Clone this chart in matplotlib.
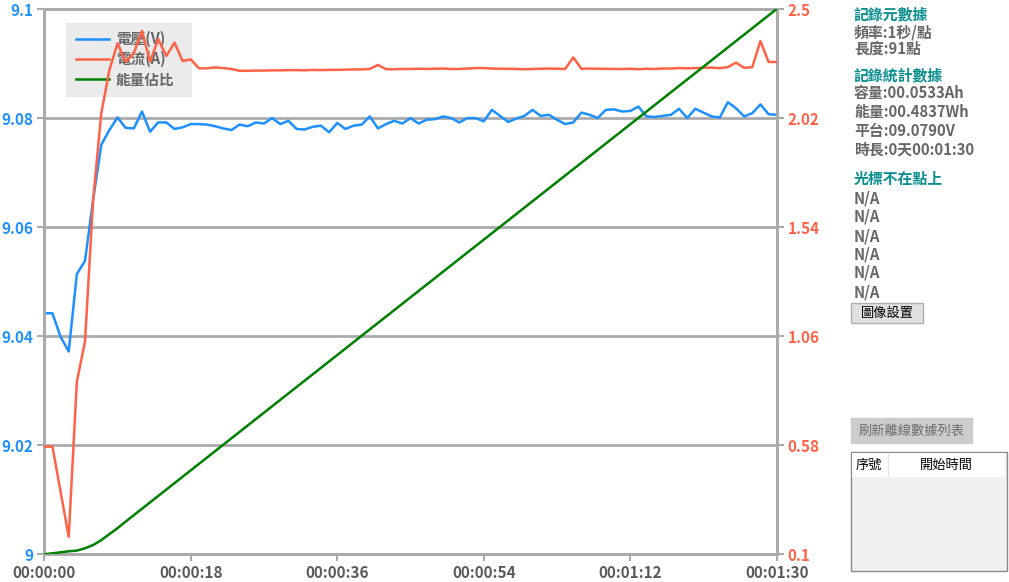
import matplotlib
matplotlib.use("Agg")
import matplotlib.pyplot as plt
from matplotlib.patches import Rectangle
from matplotlib.ticker import FixedLocator

plt.rcParams['font.family'] = ['Noto Sans CJK TC', 'DejaVu Sans']

# ---------------- data ----------------
seconds = list(range(91))
voltage = [9.0442, 9.0442, 9.0399, 9.0372, 9.0514, 9.0538, 9.0650, 9.0751, 9.0778, 9.0801,
           9.0782, 9.0781, 9.0812, 9.0775, 9.0792, 9.0792, 9.0780, 9.0783, 9.0789, 9.0789,
           9.0788, 9.0785, 9.0781, 9.0778, 9.0788, 9.0785, 9.0792, 9.0790, 9.0800, 9.0789,
           9.0795, 9.0780, 9.0779, 9.0784, 9.0786, 9.0774, 9.0791, 9.0780, 9.0786, 9.0788,
           9.0803, 9.0781, 9.0789, 9.0795, 9.0790, 9.0800, 9.0790, 9.0797, 9.0798, 9.0803,
           9.0800, 9.0792, 9.0800, 9.0800, 9.0794, 9.0815, 9.0804, 9.0793, 9.0799, 9.0804,
           9.0815, 9.0804, 9.0806, 9.0797, 9.0789, 9.0792, 9.0810, 9.0806, 9.0800, 9.0815,
           9.0816, 9.0812, 9.0813, 9.0821, 9.0803, 9.0802, 9.0804, 9.0806, 9.0817, 9.0800,
           9.0817, 9.0810, 9.0803, 9.0801, 9.0829, 9.0818, 9.0803, 9.0809, 9.0825, 9.0807,
           9.0806]
current = [0.574, 0.574, 0.376, 0.177, 0.860, 1.036, 1.659, 2.041, 2.231, 2.349,
           2.268, 2.305, 2.404, 2.268, 2.367, 2.293, 2.352, 2.271, 2.278, 2.239,
           2.239, 2.243, 2.240, 2.236, 2.228, 2.228, 2.229, 2.229, 2.230, 2.230,
           2.231, 2.231, 2.230, 2.232, 2.231, 2.232, 2.232, 2.233, 2.234, 2.234,
           2.236, 2.254, 2.235, 2.235, 2.236, 2.236, 2.237, 2.236, 2.237, 2.238,
           2.236, 2.236, 2.238, 2.240, 2.240, 2.238, 2.237, 2.237, 2.236, 2.235,
           2.236, 2.237, 2.238, 2.237, 2.236, 2.287, 2.237, 2.238, 2.237, 2.237,
           2.236, 2.236, 2.237, 2.235, 2.237, 2.236, 2.238, 2.238, 2.240, 2.239,
           2.240, 2.242, 2.242, 2.240, 2.244, 2.264, 2.241, 2.244, 2.359, 2.267,
           2.267]
energy_t = [0, 1, 2, 3, 4, 5, 6, 7, 8, 9, 10, 90]
energy_ratio = [0.0, 0.0018, 0.0037, 0.0055, 0.0068, 0.011, 0.017, 0.026, 0.037, 0.048, 0.060, 1.0]

x_ticks = [0, 18, 36, 54, 72, 90]
x_labels = ['00:00:00', '00:00:18', '00:00:36', '00:00:54', '00:01:12', '00:01:30']
v_ticks = [9.0, 9.02, 9.04, 9.06, 9.08, 9.1]
v_labels = ['9', '9.02', '9.04', '9.06', '9.08', '9.1']
i_ticks = [0.1, 0.58, 1.06, 1.54, 2.02, 2.5]
i_labels = ['0.1', '0.58', '1.06', '1.54', '2.02', '2.5']
legend_labels = ['電壓(V)', '電流(A)', '能量佔比']

info_lines = [
    ('記錄元數據', 'head'), ('頻率:1秒/點', 'body'), ('長度:91點', 'body'),
    ('記錄統計數據', 'head'), ('容量:00.0533Ah', 'body'), ('能量:00.4837Wh', 'body'),
    ('平台:09.0790V', 'body'), ('時長:0天00:01:30', 'body'),
    ('光標不在點上', 'head'), ('N/A', 'body'), ('N/A', 'body'), ('N/A', 'body'),
    ('N/A', 'body'), ('N/A', 'body'), ('N/A', 'body'),
]
info_y = [14, 32, 49, 76, 93, 112, 131, 150, 179, 198, 217, 236, 254, 273, 292]

# ---------------- style ----------------
W, H = 1009, 582
BLUE = '#1E90FF'
RED = '#FF6347'
GREEN = '#008000'
GRID = '#ABABAB'
TXT = '#666666'
TEAL = '#0A8F8F'

fig = plt.figure(figsize=(W / 100, H / 100), dpi=100)
fig.patch.set_facecolor('white')

def fx(x):
    return x / W

def fy(y):
    return 1 - y / H

left, right, top, bottom = 44.3, 776.7, 9.0, 554.3
ax = fig.add_axes([fx(left), fy(bottom), fx(right) - fx(left), fy(top) - fy(bottom)])
ax2 = ax.twinx()
ax3 = ax.twinx()

l1, = ax.plot(seconds, voltage, color=BLUE, lw=1.8, zorder=3)
l2, = ax2.plot(seconds, current, color=RED, lw=1.8, zorder=3)
l3, = ax3.plot(energy_t, energy_ratio, color=GREEN, lw=1.8, zorder=3)

ax.set_xlim(0, 90)
ax.set_ylim(9.0, 9.1)
ax2.set_ylim(0.1, 2.5)
ax3.set_ylim(0, 1)
ax3.axis('off')

ax.xaxis.set_major_locator(FixedLocator(x_ticks))
ax.set_xticklabels(x_labels)
ax.set_yticks(v_ticks)
ax.set_yticklabels(v_labels)
ax2.set_yticks(i_ticks)
ax2.set_yticklabels(i_labels)

ax.grid(axis='y', color=GRID, lw=2.0, zorder=0)
ax.set_axisbelow(True)

for a in (ax, ax2):
    for s in a.spines.values():
        s.set_color(GRID)
        s.set_linewidth(2.0)

ax.tick_params(axis='x', colors=GRID, length=5, width=1.5, pad=3)
ax.tick_params(axis='y', colors=GRID, length=5, width=1.5, pad=3)
ax2.tick_params(axis='y', colors=GRID, length=5, width=1.5, pad=3)
for lab in ax.get_xticklabels():
    lab.set_color('#5A5A5A'); lab.set_fontweight('bold'); lab.set_fontsize(11)
for lab in ax.get_yticklabels():
    lab.set_color(BLUE); lab.set_fontweight('bold'); lab.set_fontsize(11)
for lab in ax2.get_yticklabels():
    lab.set_color(RED); lab.set_fontweight('bold'); lab.set_fontsize(11)

# legend background (below the data lines)
ax.add_patch(Rectangle((fx(66), fy(97)), fx(192) - fx(66), fy(23) - fy(97),
                       transform=fig.transFigure, facecolor='#EBEBEB',
                       edgecolor='none', zorder=1))
leg = ax.legend([l1, l2, l3], legend_labels, loc='upper left',
                bbox_to_anchor=(fx(70), fy(25)), bbox_transform=fig.transFigure,
                frameon=False, borderaxespad=0, handlelength=2.3, handletextpad=0.45,
                labelspacing=0.28, borderpad=0.4,
                prop={'weight': 'bold', 'size': 10.5})
for t in leg.get_texts():
    t.set_color(TXT)
leg.set_zorder(1.5)

# ---------------- right panel ----------------
for (txt, kind), y in zip(info_lines, info_y):
    fig.text(fx(854), fy(y), txt, ha='left', va='center', fontsize=10.7,
             fontweight='bold', color=TEAL if kind == 'head' else TXT)

# button 圖像設置
fig.patches.append(Rectangle((fx(851), fy(323)), fx(923) - fx(851), fy(303) - fy(323),
                             transform=fig.transFigure, facecolor='#E1E1E1',
                             edgecolor='#ADADAD', lw=1))
fig.text(fx(887), fy(313), '圖像設置', ha='center', va='center', fontsize=9.5, color='black')

# button 刷新離線數據列表
fig.patches.append(Rectangle((fx(851), fy(443)), fx(972) - fx(851), fy(418) - fy(443),
                             transform=fig.transFigure, facecolor='#CCCCCC',
                             edgecolor='#CCCCCC', lw=1))
fig.text(fx(912), fy(431), '刷新離線數據列表', ha='center', va='center', fontsize=9.5,
         color='#6D6D6D')

# table
fig.patches.append(Rectangle((fx(851), fy(571)), fx(1007) - fx(851), fy(452) - fy(571),
                             transform=fig.transFigure, facecolor='#F0F0F0',
                             edgecolor='#8A8A8A', lw=1))
fig.patches.append(Rectangle((fx(852), fy(477)), fx(1005) - fx(852), fy(453) - fy(477),
                             transform=fig.transFigure, facecolor='white',
                             edgecolor='none', lw=0))
fig.lines.append(plt.Line2D([fx(888), fx(888)], [fy(453), fy(477)], transform=fig.transFigure,
                            color='#E5E5E5', lw=1))
fig.text(fx(869), fy(465), '序號', ha='center', va='center', fontsize=9.5, color='black')
fig.text(fx(946), fy(465), '開始時間', ha='center', va='center', fontsize=9.5, color='black')

fig.savefig('out.png', dpi=100)
